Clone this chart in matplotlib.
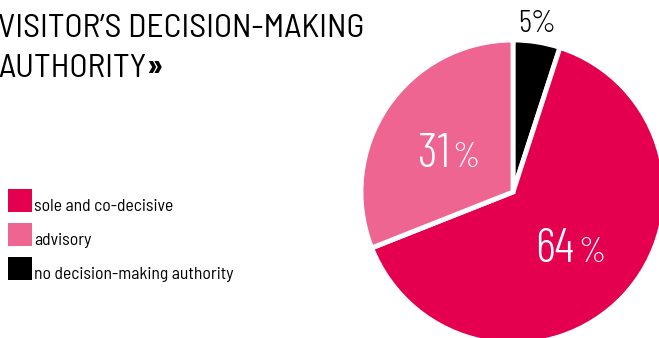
import matplotlib.pyplot as plt
from matplotlib.patches import Rectangle

labels = ["no decision-making authority", "sole and co-decisive", "advisory"]
shares = [5, 64, 31]
colors = ["#000000", "#E4004F", "#EE6592"]
legend_order = [1, 2, 0]
title_lines = ["VISITOR\u2019S DECISION-MAKING", "AUTHORITY"]

fam = ["Barlow Condensed", "DejaVu Sans"]
fam_semi = ["Barlow Semi Condensed", "DejaVu Sans"]

W, H = 659, 338
fig = plt.figure(figsize=(W / 100, H / 100), dpi=100)
ax = fig.add_axes([0, 0, 1, 1])

# pie, centre and radius in pixel units
cx, cy, r = 513, H - 192, 152
ax.pie(shares, colors=colors, startangle=90, counterclock=False,
       center=(cx, cy), radius=r, frame=True,
       wedgeprops=dict(edgecolor="white", linewidth=3.5))
ax.set_xlim(0, W)
ax.set_ylim(0, H)
ax.set_aspect("equal")
ax.axis("off")

# percentage labels
ax.text(537, H - 32, f"{shares[0]}%", fontsize=23, family=fam, weight=300,
        color="black", ha="center", va="baseline")
ax.text(450, H - 167, f"{shares[2]}", fontsize=35, family=fam, weight=300,
        color="white", ha="right", va="baseline")
ax.text(452, H - 167, "%", fontsize=25, family=fam, weight=300,
        color="white", ha="left", va="baseline")
ax.text(574, H - 262, f"{shares[1]}", fontsize=35, family=fam, weight=300,
        color="white", ha="right", va="baseline")
ax.text(578, H - 262, "%", fontsize=25, family=fam, weight=300,
        color="white", ha="left", va="baseline")

# title (left edge is cropped in the original layout)
ax.text(-2, H - 37, title_lines[0], fontsize=24.2, family=fam_semi, weight=400,
        ha="left", va="baseline")
t = ax.text(-2, H - 77, title_lines[1], fontsize=24.2, family=fam_semi, weight=400,
            ha="left", va="baseline")
fig.canvas.draw()
bb = t.get_window_extent()
ax.text(bb.x1, H - 77, "\u00bb", fontsize=24.2, family=fam_semi, weight="bold",
        ha="left", va="baseline")

# legend
for k, i in enumerate(legend_order):
    top = 189 + k * 34
    ax.add_patch(Rectangle((8, H - top - 23), 24, 23, color=colors[i], lw=0))
    ax.text(34, H - top - 22, labels[i], fontsize=12.7, family=fam_semi, weight=400,
            ha="left", va="baseline")

fig.savefig("out.png", dpi=100)
